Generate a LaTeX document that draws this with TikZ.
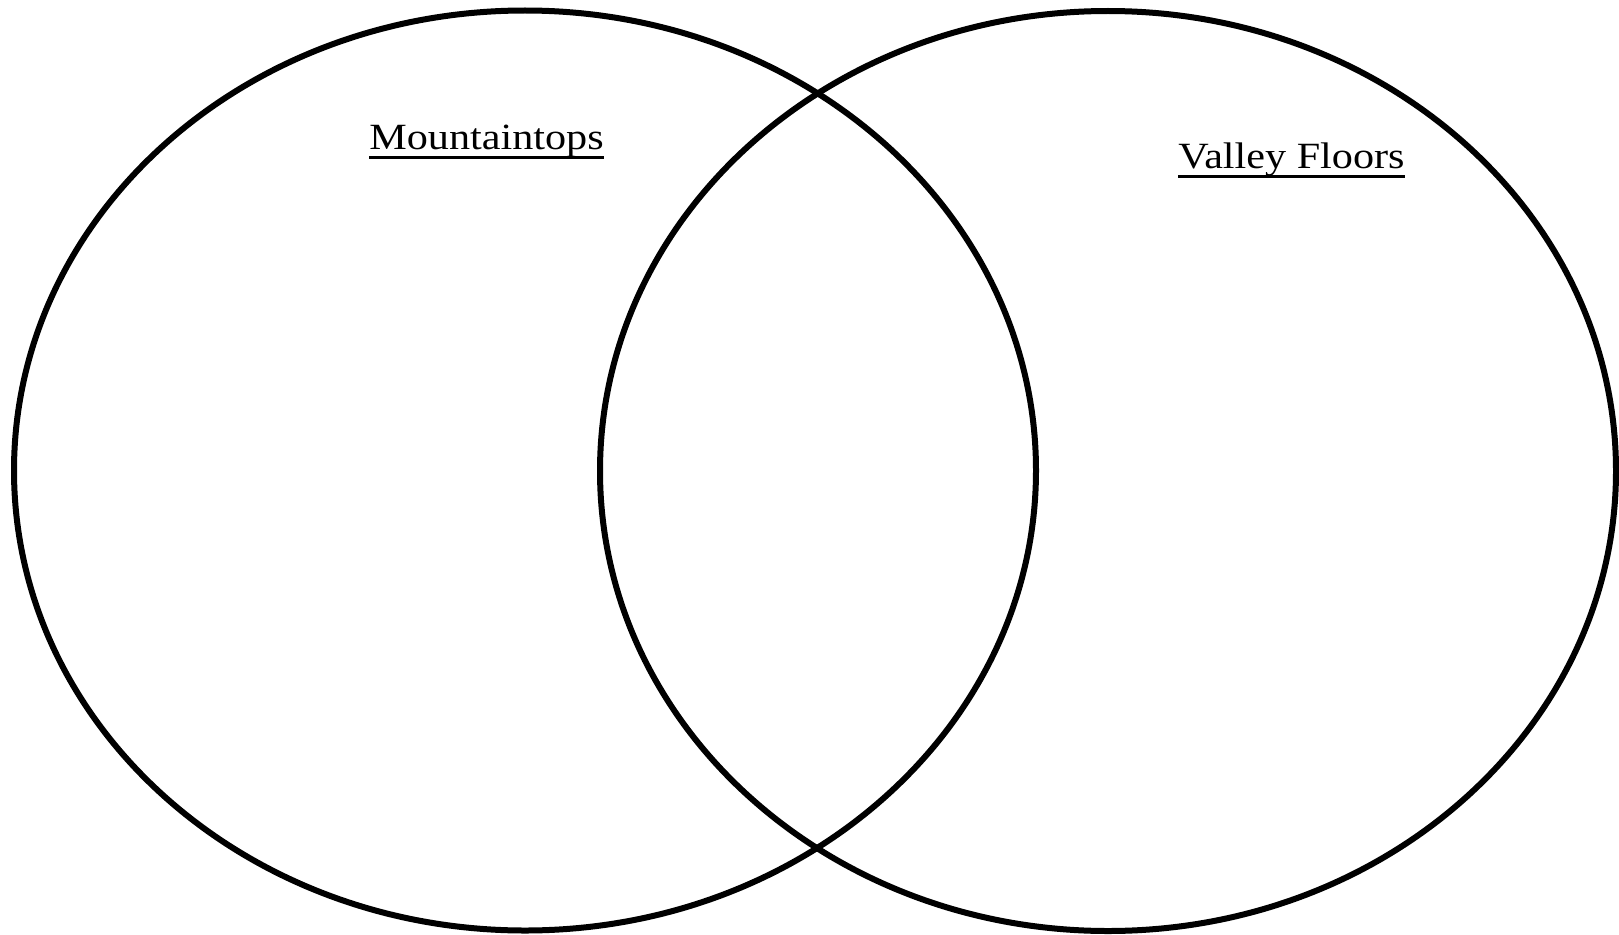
\documentclass[tikz,border=0pt]{standalone}
\usepackage{fontspec}
\setmainfont{Liberation Serif}
\newcommand\myul[1]{\setbox0\hbox{#1}\rlap{\rule[-0.27em]{\wd0}{0.08em}}\box0}
\tikzset{
  venn/.style={draw=black, line width=6pt},
  title/.style={inner sep=0pt, anchor=base, xscale=1.14, font=\fontsize{37pt}{41pt}\selectfont}
}
\begin{document}
\begin{tikzpicture}[x=1pt, y=-1pt]
\useasboundingbox (0,0) rectangle (1619,934);
\fill[white] (0,0) rectangle (1619,934);
\draw[venn] (525,470.5) ellipse [x radius=511, y radius=460];
\draw[venn] (1108,471) ellipse [x radius=508, y radius=460];
\node[title] (mt) at (486.5,149) {\myul{Mountaintops}};
\node[title] (vf) at (1291.5,168) {\myul{Valley Floors}};
\end{tikzpicture}
\end{document}
